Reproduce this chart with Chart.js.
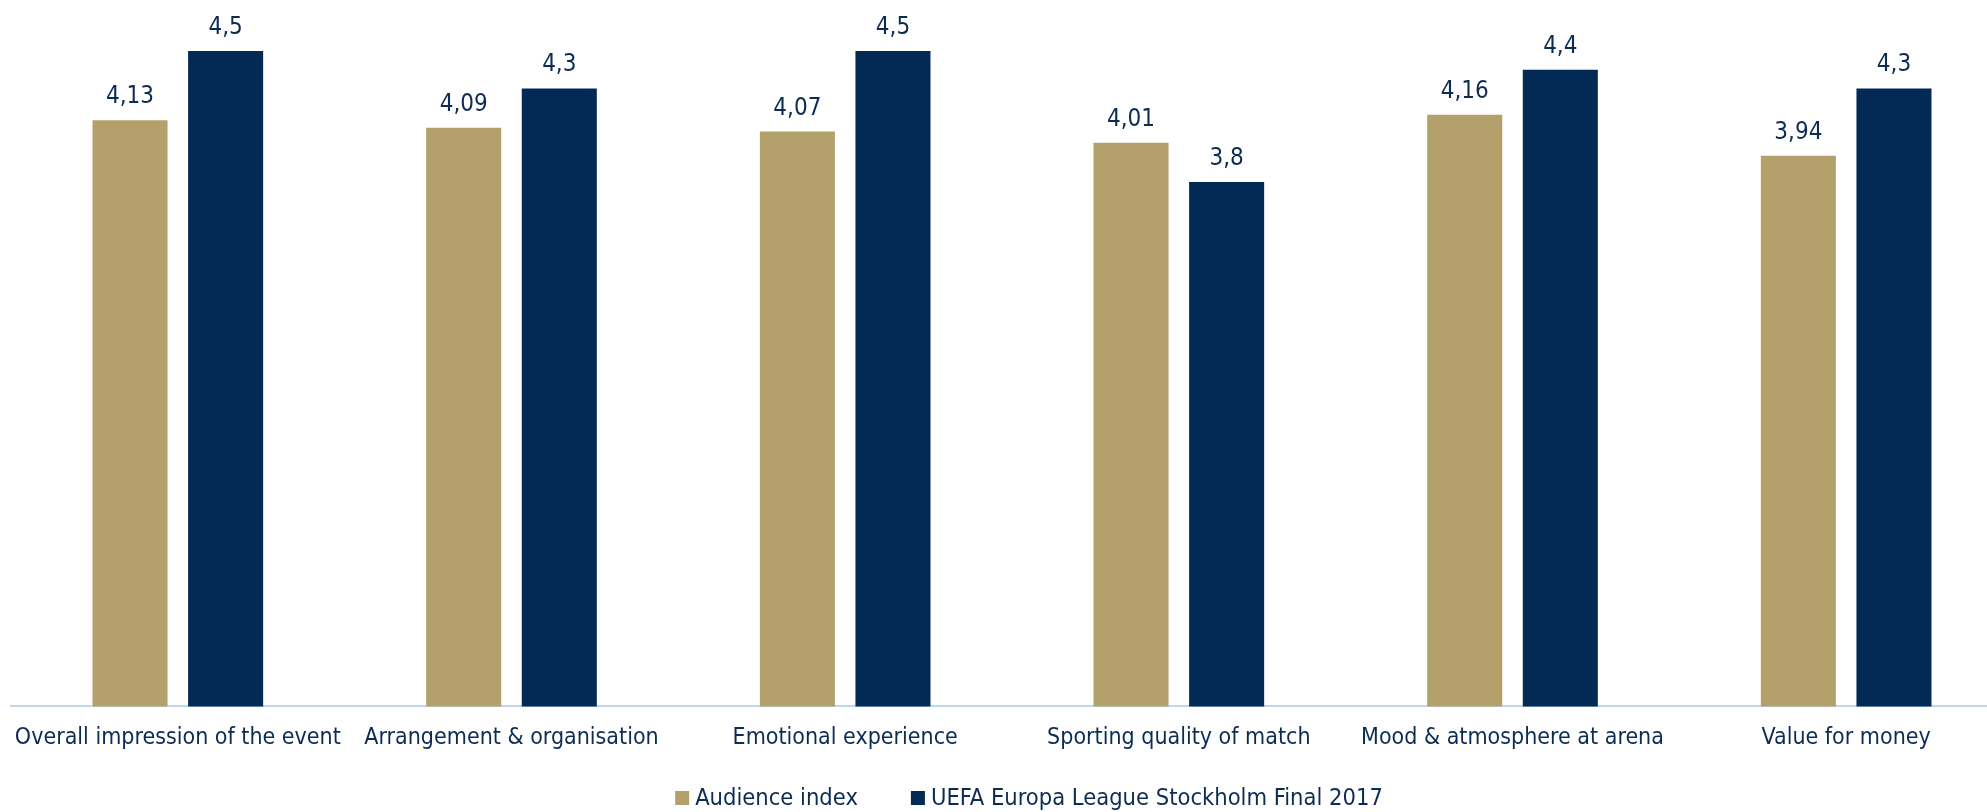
<!DOCTYPE html>
<html lang="en">
<head>
  <meta charset="UTF-8" />
  <title>Audience index vs UEFA Europa League Stockholm Final 2017</title>
  <script src="https://cdn.jsdelivr.net/npm/chart.js"></script>
  <style>
    html, body { margin: 0; padding: 0; background: #fff; overflow: hidden; }
    /* the plot runs a little past the right edge in the original, so the canvas is wider than the window */
    .wrap { width: 2013px; height: 812px; position: relative; }
  </style>
</head>
<body>
  <div class="wrap"><canvas id="scoreChart"></canvas></div>

  <script>
    // Data
    const categories = [
      'Overall impression of the event',
      'Arrangement & organisation',
      'Emotional experience',
      'Sporting quality of match',
      'Mood & atmosphere at arena',
      'Value for money'
    ];
    const audienceIndex = [4.13, 4.09, 4.07, 4.01, 4.16, 3.94];
    const stockholmFinal = [4.5, 4.3, 4.5, 3.8, 4.4, 4.3];
    const seriesNames = ['Audience index', 'UEFA Europa League Stockholm Final 2017'];

    const GOLD = '#B3A06A';
    const NAVY = '#022A54';
    const TEXT = '#0D2C54';
    const FONT = "'DejaVu Sans Condensed', 'DejaVu Sans', sans-serif";

    // value labels above each bar (comma decimals)
    const valueLabels = {
      id: 'valueLabels',
      afterDatasetsDraw(chart) {
        const ctx = chart.ctx;
        ctx.save();
        ctx.font = '24px ' + FONT;
        ctx.fillStyle = TEXT;
        ctx.textAlign = 'center';
        ctx.textBaseline = 'alphabetic';
        chart.data.datasets.forEach((ds, i) => {
          chart.getDatasetMeta(i).data.forEach((bar, j) => {
            ctx.fillText(String(ds.data[j]).replace('.', ','), bar.x, bar.y - 17);
          });
        });
        ctx.restore();
      }
    };

    // legend drawn by hand so box/text gaps match the original
    const bottomLegend = {
      id: 'bottomLegend',
      afterDraw(chart) {
        const ctx = chart.ctx;
        const box = 14, boxGap = 6, itemGap = 53;
        const cy = 798, centerX = 1029;
        ctx.save();
        ctx.font = '23.5px ' + FONT;
        ctx.textBaseline = 'middle';
        const items = chart.data.datasets.map(ds => ({
          text: ds.label, color: ds.backgroundColor, w: ctx.measureText(ds.label).width
        }));
        let total = 0;
        items.forEach((it, i) => { total += box + boxGap + it.w + (i ? itemGap : 0); });
        let x = centerX - total / 2;
        items.forEach(it => {
          ctx.fillStyle = it.color;
          ctx.fillRect(x, cy - box / 2, box, box);
          ctx.fillStyle = TEXT;
          ctx.fillText(it.text, x + box + boxGap, cy + 1);
          x += box + boxGap + it.w + itemGap;
        });
        ctx.restore();
      }
    };

    new Chart(document.getElementById('scoreChart'), {
      type: 'bar',
      data: {
        labels: categories,
        datasets: [
          { label: seriesNames[0], data: audienceIndex, backgroundColor: GOLD },
          { label: seriesNames[1], data: stockholmFinal, backgroundColor: NAVY }
        ]
      },
      options: {
        responsive: true,
        maintainAspectRatio: false,
        animation: false,
        datasets: { bar: { categoryPercentage: 0.573, barPercentage: 0.785 } },
        layout: { padding: { top: 51, left: 11, right: 0, bottom: 50 } },
        scales: {
          x: {
            grid: { display: false },
            border: { display: true, color: '#BDD7EE', width: 2 },
            ticks: {
              color: TEXT,
              font: { family: FONT, size: 23 },
              autoSkip: false,
              maxRotation: 0,
              minRotation: 0,
              padding: 10
            }
          },
          y: {
            display: false,
            min: 1,
            max: 4.5
          }
        },
        plugins: {
          legend: { display: false },
          tooltip: { enabled: false }
        }
      },
      plugins: [valueLabels, bottomLegend]
    });
  </script>
</body>
</html>
